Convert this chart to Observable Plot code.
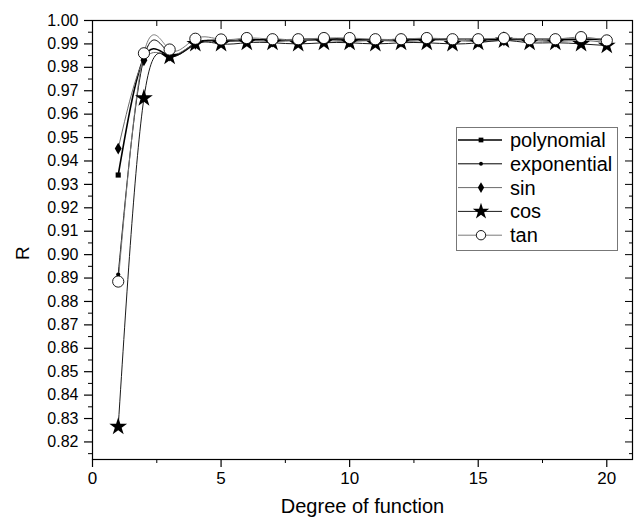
<!DOCTYPE html>
<html><head><meta charset="utf-8">
<script src="https://cdn.jsdelivr.net/npm/d3@7"></script>
<script src="https://cdn.jsdelivr.net/npm/@observablehq/plot@0.6"></script>
<style>
body{margin:0;background:#fff;}
#wrap{position:relative;width:637px;height:521px;font-family:Arial,"Liberation Sans",sans-serif;}
#legend{position:absolute;left:456px;top:127px;width:162px;height:124px;border:1px solid #777;background:#fff;box-sizing:border-box;}
#legend svg{display:block;}
</style></head><body><div id="wrap"><div id="legend"></div></div>
<script>
const degrees = [1,2,3,4,5,6,7,8,9,10,11,12,13,14,15,16,17,18,19,20];
const polynomial  = [0.934,0.984,0.985,0.990,0.9915,0.9915,0.992,0.9915,0.992,0.992,0.9915,0.992,0.992,0.992,0.992,0.992,0.992,0.992,0.992,0.992];
const exponential = [0.8915,0.984,0.986,0.9905,0.991,0.992,0.9915,0.992,0.992,0.9915,0.992,0.9915,0.992,0.992,0.9915,0.992,0.992,0.9915,0.992,0.9915];
const sinR        = [0.9453,0.983,0.985,0.990,0.991,0.9915,0.991,0.9915,0.9915,0.991,0.9915,0.991,0.9915,0.9915,0.991,0.9915,0.9915,0.991,0.9915,0.9905];
const cosR        = [0.8265,0.9668,0.9846,0.990,0.990,0.9905,0.9905,0.990,0.9905,0.9905,0.990,0.9905,0.9905,0.990,0.9905,0.9915,0.9905,0.9905,0.990,0.9893];
const tanR        = [0.8885,0.986,0.9876,0.9922,0.9919,0.9925,0.992,0.992,0.9925,0.9925,0.992,0.992,0.9925,0.992,0.992,0.9925,0.992,0.992,0.9929,0.9915];

const seriesNames   = ["polynomial","exponential","sin","cos","tan"];
const seriesValues  = [polynomial, exponential, sinR, cosR, tanR];
const seriesColors  = ["#000000","#000000","#6a6a6a","#1a1a1a","#7a7a7a"];
const seriesWidths  = [1.6,1,1,1,1];
const seriesSymbols = ["square","circle","diamond","star","circle"];
const seriesSizes   = [2.9,2.1,3.6,5.6,5.6];
const seriesFills   = ["#000","#000","#000","#000","#fff"];

const yTicks = [0.82,0.83,0.84,0.85,0.86,0.87,0.88,0.89,0.90,0.91,0.92,0.93,0.94,0.95,0.96,0.97,0.98,0.99,1.00];
const yMinor = [0.815,0.825,0.835,0.845,0.855,0.865,0.875,0.885,0.895,0.905,0.915,0.925,0.935,0.945,0.955,0.965,0.975,0.985,0.995];
const xTicks = [0,5,10,15,20];
const xMinor = [2.5,7.5,12.5,17.5];
const xTitle = "Degree of function";
const yTitle = "R";

const tables = seriesValues.map((vals, i) => degrees.map((d, j) => ({degree: d, r: vals[j], series: seriesNames[i]})));

const lineMarks = tables.map((t, i) => Plot.line(t, {x: "degree", y: "r", curve: "natural", stroke: seriesColors[i], strokeWidth: seriesWidths[i]}));
const dotMarks = tables.map((t, i) => Plot.dot(t, {x: "degree", y: "r", symbol: () => seriesSymbols[i], r: seriesSizes[i], fill: seriesFills[i], stroke: i === 4 ? "#000" : "none", strokeWidth: 0.9}));

const none = () => "";
const font = "Arial, 'Liberation Sans', sans-serif";
const chart = Plot.plot({
  width: 637, height: 521,
  marginLeft: 92, marginRight: 5, marginTop: 20, marginBottom: 62,
  style: {fontFamily: font, color: "#000", background: "#fff"},
  x: {domain: [0, 21]},
  y: {domain: [0.8125, 1.0]},
  marks: [
    ...lineMarks,
    ...dotMarks,
    Plot.frame({stroke: "#000", strokeWidth: 1.2}),
    Plot.axisY(yTicks, {anchor: "left", tickSize: 8, tickPadding: 6, tickFormat: d3.format(".2f"), fontSize: 16, label: null, strokeWidth: 1.2}),
    Plot.axisY(yMinor, {anchor: "left", tickSize: 4, tickFormat: none, label: null}),
    Plot.axisY(yTicks, {anchor: "right", tickSize: 8, dx: -8, tickFormat: none, label: null}),
    Plot.axisY(yMinor, {anchor: "right", tickSize: 4, dx: -4, tickFormat: none, label: null}),
    Plot.axisX(xTicks, {anchor: "bottom", tickSize: 8, tickPadding: 4, fontSize: 17, label: null, strokeWidth: 1.2}),
    Plot.axisX(xMinor, {anchor: "bottom", tickSize: 4, tickFormat: none, label: null}),
    Plot.axisX(xTicks, {anchor: "top", tickSize: 8, dy: 8, tickFormat: none, label: null}),
    Plot.axisX(xMinor, {anchor: "top", tickSize: 5, dy: 5, tickFormat: none, label: null}),
    Plot.text([xTitle], {text: d => d, frameAnchor: "bottom", dy: 53, dx: 0, fontSize: 20, fill: "#000"}),
    Plot.text([yTitle], {text: d => d, frameAnchor: "left", dx: -70, dy: 20, rotate: -90, fontSize: 19, fill: "#000"})
  ]
});
chart.style.position = "absolute";
chart.style.left = "0px";
chart.style.top = "0px";
const wrap = document.getElementById("wrap");
wrap.insertBefore(chart, wrap.firstChild);

// legend
const lg = d3.select("#legend").append("svg").attr("width", 160).attr("height", 122);
const symMap = {square: d3.symbolSquare, circle: d3.symbolCircle, diamond: d3.symbolDiamond, star: d3.symbolStar};
seriesNames.forEach((name, i) => {
  const y = 12 + i * 23.8;
  lg.append("line").attr("x1", 1).attr("x2", 45).attr("y1", y).attr("y2", y)
    .attr("stroke", seriesColors[i]).attr("stroke-width", seriesWidths[i]);
  lg.append("path").attr("transform", `translate(24,${y})`)
    .attr("d", d3.symbol(symMap[seriesSymbols[i]], seriesSizes[i] * seriesSizes[i] * Math.PI * (i === 4 ? 0.7 : 0.85))())
    .attr("fill", seriesFills[i]).attr("stroke", i === 4 ? "#000" : "none").attr("stroke-width", 0.9);
  lg.append("text").attr("x", 53).attr("y", y).attr("dy", "0.35em")
    .attr("font-size", 20).attr("font-family", font).text(name);
});
</script>
</body></html>
